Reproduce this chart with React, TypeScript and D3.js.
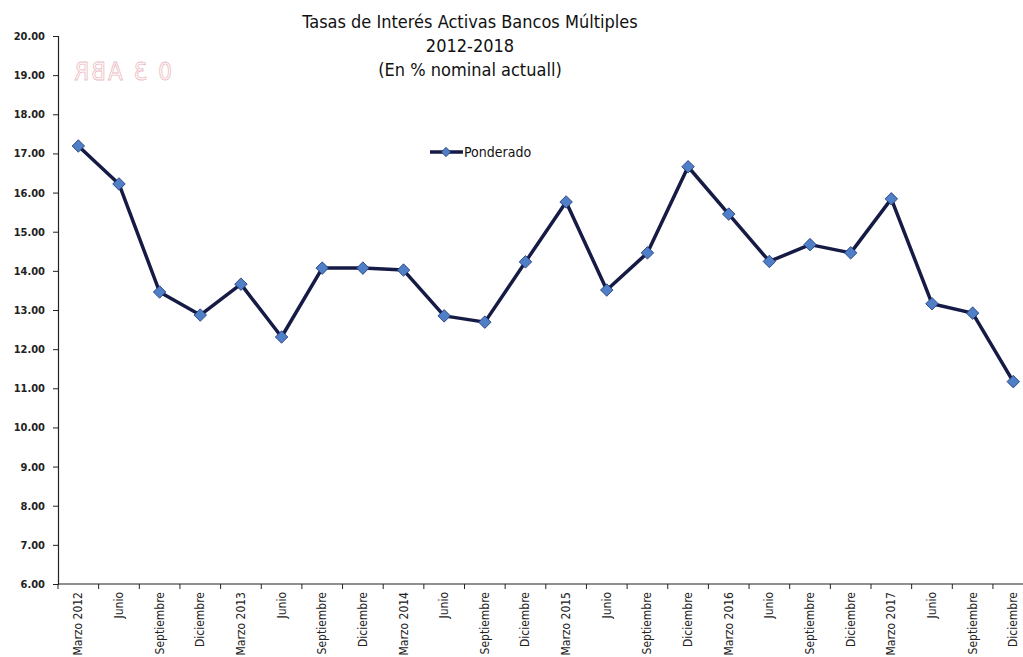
import React from 'react';
import * as d3 from 'd3';

// Datos
const periodos = [
  'Marzo 2012', 'Junio', 'Septiembre', 'Diciembre',
  'Marzo 2013', 'Junio', 'Septiembre', 'Diciembre',
  'Marzo 2014', 'Junio', 'Septiembre', 'Diciembre',
  'Marzo 2015', 'Junio', 'Septiembre', 'Diciembre',
  'Marzo 2016', 'Junio', 'Septiembre', 'Diciembre',
  'Marzo 2017', 'Junio', 'Septiembre', 'Diciembre',
];

const ponderado = [
  17.19, 16.22, 13.46, 12.87,
  13.66, 12.31, 14.07, 14.07,
  14.02, 12.85, 12.69, 14.23,
  15.76, 13.51, 14.46, 16.66,
  15.45, 14.24, 14.67, 14.46,
  15.84, 13.16, 12.92, 11.17,
];

const yTicks = [6, 7, 8, 9, 10, 11, 12, 13, 14, 15, 16, 17, 18, 19, 20];

const titulo = [
  'Tasas de Interés Activas Bancos Múltiples',
  '2012-2018',
  '(En % nominal actuall)',
];

const WIDTH = 1023;
const HEIGHT = 657;
const margin = { top: 36, left: 58, bottom: 73 };
const LINE_COLOR = '#161b45';
const MARKER_FILL = '#4f7fc6';
const FONT = '"DejaVu Sans Condensed", "DejaVu Sans", sans-serif';

const App = () => {
  const svgRef = React.useRef<SVGSVGElement | null>(null);

  React.useEffect(() => {
    const svg = d3.select(svgRef.current);
    svg.selectAll('*').remove();

    const chartHeight = HEIGHT - margin.top - margin.bottom;
    const bandWidth = 40.65;

    const x = d3.scaleBand<number>()
      .domain(d3.range(periodos.length))
      .range([margin.left, margin.left + bandWidth * periodos.length])
      .padding(0);

    const y = d3.scaleLinear()
      .domain([6, 20])
      .range([margin.top + chartHeight, margin.top]);

    const cx = (i: number) => (x(i) as number) + x.bandwidth() / 2;

    // sello de recepción visto al revés (traspasa la hoja), muy tenue
    svg.append('text')
      .attr('transform', 'translate(172,80) scale(-1,1)')
      .style('font-family', FONT)
      .style('font-size', '24px')
      .style('letter-spacing', '2px')
      .style('fill', 'none')
      .style('stroke', '#ecbcc2')
      .style('stroke-width', 0.8)
      .text('0 3 ABR');

    // título
    const t = svg.append('text')
      .attr('text-anchor', 'middle')
      .style('font-family', FONT)
      .style('font-size', '18px')
      .style('fill', '#111');
    titulo.forEach((line, i) => {
      t.append('tspan')
        .attr('x', 470)
        .attr('y', 28 + i * 24)
        .text(line);
    });

    // eje Y
    const yAxis = svg.append('g')
      .attr('transform', `translate(${margin.left},0)`)
      .call(d3.axisLeft(y).tickValues(yTicks).tickSize(5).tickPadding(8).tickFormat(d3.format('.2f')));
    yAxis.select('.domain').attr('stroke', '#222').attr('stroke-width', 1.2);
    yAxis.selectAll('.tick line').attr('stroke', '#222');
    yAxis.selectAll('.tick text')
      .style('font-family', FONT)
      .style('font-size', '11px')
      .style('font-weight', 'bold')
      .style('fill', '#222');

    // eje X
    const xAxisY = margin.top + chartHeight;
    const xg = svg.append('g');
    xg.append('line')
      .attr('x1', margin.left)
      .attr('x2', margin.left + bandWidth * periodos.length)
      .attr('y1', xAxisY)
      .attr('y2', xAxisY)
      .attr('stroke', '#222')
      .attr('stroke-width', 1.2);
    xg.selectAll('.xtick')
      .data(d3.range(periodos.length + 1))
      .enter()
      .append('line')
      .attr('x1', d => margin.left + d * bandWidth)
      .attr('x2', d => margin.left + d * bandWidth)
      .attr('y1', xAxisY)
      .attr('y2', xAxisY + 5)
      .attr('stroke', '#222');
    xg.selectAll('.xlabel')
      .data(periodos)
      .enter()
      .append('text')
      .attr('transform', (d, i) => `translate(${cx(i) + 4},${xAxisY + 8}) rotate(-90)`)
      .attr('text-anchor', 'end')
      .style('font-family', FONT)
      .style('font-size', '12px')
      .style('fill', '#222')
      .text(d => d);

    // línea
    const line = d3.line<number>()
      .x((d, i) => cx(i))
      .y(d => y(d));

    svg.append('path')
      .datum(ponderado)
      .attr('d', line)
      .style('fill', 'none')
      .style('stroke', LINE_COLOR)
      .style('stroke-width', 3.5)
      .style('stroke-linejoin', 'round');

    const diamond = d3.symbol().type(d3.symbolDiamond2).size(100);
    svg.selectAll('.point')
      .data(ponderado)
      .enter()
      .append('path')
      .attr('d', diamond)
      .attr('transform', (d, i) => `translate(${cx(i)},${y(d)})`)
      .style('fill', MARKER_FILL)
      .style('stroke', '#1e3170')
      .style('stroke-width', 0.8);

    // leyenda
    const lg = svg.append('g').attr('transform', 'translate(430,152)');
    lg.append('line')
      .attr('x1', 0).attr('x2', 33).attr('y1', 0).attr('y2', 0)
      .style('stroke', LINE_COLOR).style('stroke-width', 3.5);
    lg.append('path')
      .attr('d', d3.symbol().type(d3.symbolDiamond2).size(55))
      .attr('transform', 'translate(16,0)')
      .style('fill', MARKER_FILL)
      .style('stroke', '#1e3170')
      .style('stroke-width', 0.8);
    lg.append('text')
      .attr('x', 34)
      .attr('y', 5)
      .style('font-family', FONT)
      .style('font-size', '14px')
      .style('fill', '#111')
      .text('Ponderado');
  }, []);

  return (
    <div style={{ position: 'fixed', left: 0, top: 0, width: WIDTH, height: HEIGHT, background: '#fff', overflow: 'hidden' }}>
      <svg ref={svgRef} width={WIDTH} height={HEIGHT} style={{ display: 'block' }} />
    </div>
  );
};

export default App;
